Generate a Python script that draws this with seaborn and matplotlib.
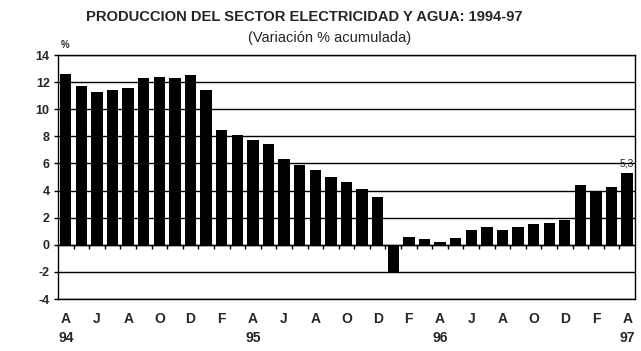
import pandas as pd
import matplotlib.pyplot as plt
import seaborn as sns

# monthly series, April 1994 - April 1997
periods = ["1994-04", "1994-05", "1994-06", "1994-07", "1994-08", "1994-09",
           "1994-10", "1994-11", "1994-12", "1995-01", "1995-02", "1995-03",
           "1995-04", "1995-05", "1995-06", "1995-07", "1995-08", "1995-09",
           "1995-10", "1995-11", "1995-12", "1996-01", "1996-02", "1996-03",
           "1996-04", "1996-05", "1996-06", "1996-07", "1996-08", "1996-09",
           "1996-10", "1996-11", "1996-12", "1997-01", "1997-02", "1997-03",
           "1997-04"]
values = [12.6, 11.7, 11.3, 11.4, 11.6, 12.3, 12.4, 12.3, 12.5, 11.4,
          8.5, 8.1, 7.7, 7.4, 6.3, 5.9, 5.5, 5.0, 4.6, 4.1, 3.5,
          -2.0, 0.6, 0.4, 0.2, 0.5, 1.1, 1.3, 1.1, 1.3, 1.5, 1.6, 1.8,
          4.4, 4.0, 4.3, 5.3]
month_initials = ["E", "F", "M", "A", "M", "J", "J", "A", "S", "O", "N", "D"]
year_marks = {"1994-04": "94", "1995-04": "95", "1996-04": "96", "1997-04": "97"}
last_label = "5,3"

df = pd.DataFrame({"periodo": periods, "valor": values})

sns.set_style("white")
plt.rcParams['font.family'] = ['Liberation Sans', 'DejaVu Sans']

fig = plt.figure(figsize=(6.41, 3.51), dpi=100)
ax = fig.add_axes([0.0905, 0.148, 0.9001, 0.6953])

sns.barplot(data=df, x="periodo", y="valor", order=periods, color="black",
            saturation=1, width=0.73, edgecolor="black", linewidth=0, ax=ax)

ax.set_xlim(-0.5, len(periods) - 0.5)
ax.set_ylim(-4, 14)
ax.set_yticks(range(-4, 15, 2))
ax.set_yticklabels([str(v) for v in range(-4, 15, 2)], fontweight="bold", fontsize=9)
ax.yaxis.grid(True, color="black", linewidth=1)
ax.set_axisbelow(True)
ax.tick_params(axis="y", length=3, width=1, color="black", pad=3, direction="out", left=True)

# x labels: every second month, year under April
tick_pos = list(range(0, len(periods), 2))
tick_lab = []
for i in tick_pos:
    p = periods[i]
    m = month_initials[int(p[5:]) - 1]
    tick_lab.append(m + "\n" + year_marks.get(p, " "))
ax.set_xticks(tick_pos)
ax.set_xticklabels(tick_lab, fontweight="bold", fontsize=10, va="top")
for lbl in ax.get_xticklabels():
    lbl.set_linespacing(1.5)
ax.tick_params(axis="x", length=0, pad=9)

# small ticks between bars on the zero line
bounds = [i + 0.5 for i in range(len(periods) - 1)]
ax.vlines(bounds, -0.3, 0, color="black", linewidth=1)
ax.axhline(0, color="black", linewidth=1)

for s in ax.spines.values():
    s.set_color("black")
    s.set_linewidth(1)
    s.set_visible(True)
ax.set_xlabel("")
ax.set_ylabel("")

ax.text(len(periods) - 1, values[-1] + 0.35, last_label, ha="center", va="bottom", fontsize=7.5)
ax.text(0.004, 1.02, "%", transform=ax.transAxes, fontsize=7, fontweight="bold", ha="left", va="bottom")

fig.text(0.475, 0.952, "PRODUCCION DEL SECTOR ELECTRICIDAD Y AGUA: 1994-97",
         ha="center", va="center", fontsize=10.6, fontweight="bold")
fig.text(0.514, 0.892, "(Variación % acumulada)", ha="center", va="center", fontsize=10.5)

fig.savefig("out.png", dpi=100, facecolor="white")
